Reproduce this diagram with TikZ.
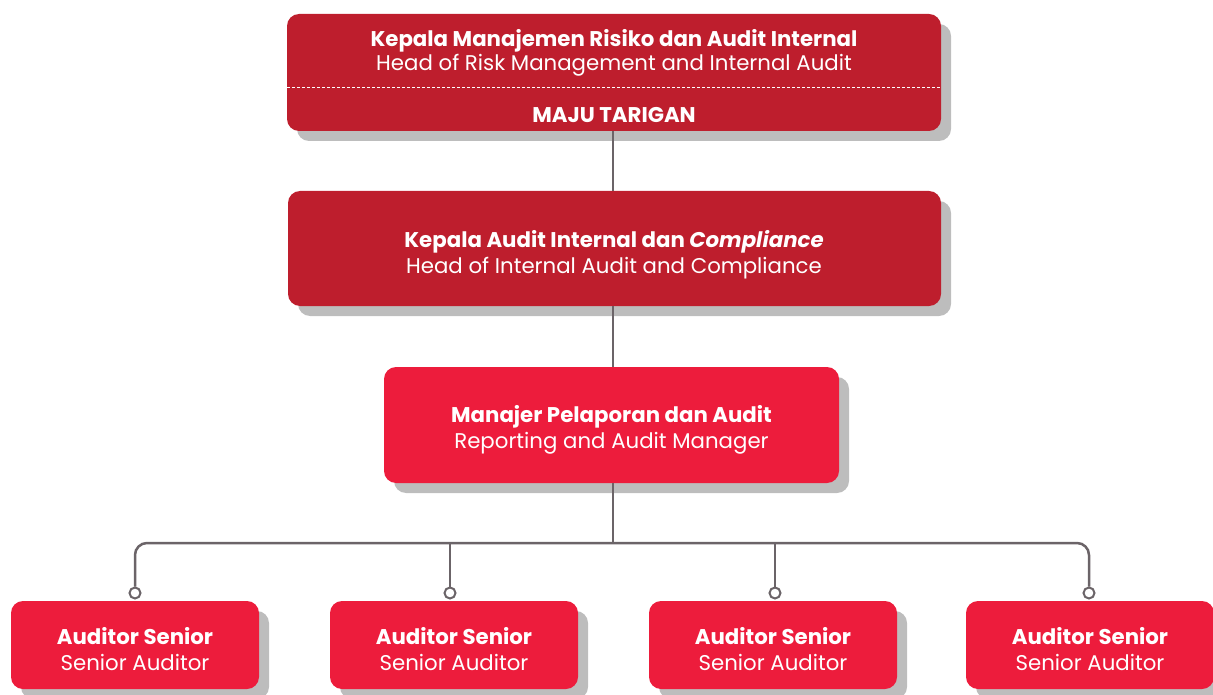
\documentclass[tikz,border=0pt]{standalone}
\usepackage{fontspec}
\setmainfont{Poppins}
\usetikzlibrary{shadows}
\definecolor{darkred}{HTML}{BE1E2D}
\definecolor{brightred}{HTML}{ED1C3C}
\definecolor{shade}{HTML}{BDBDBD}
\definecolor{linegray}{HTML}{6B6468}
\tikzset{
  box/.style={rounded corners=12pt, draw=none, inner sep=0pt,
    general shadow={fill=shade, shadow xshift=10pt, shadow yshift=-10pt}},
  txt/.style={text=white, align=center, inner sep=0pt, font=\fontsize{21.3}{26}\selectfont},
  txttop/.style={txt, font=\fontsize{21.3}{24}\selectfont},
  conn/.style={draw=linegray, line width=2.5pt},
  dot/.style={circle, draw=linegray, fill=white, line width=2pt, minimum size=11pt, inner sep=0pt}
}
\begin{document}
\begin{tikzpicture}[x=1pt,y=-1pt]
\useasboundingbox (0,0) rectangle (1213,695);
% top box
\node[box, fill=darkred, minimum width=654pt, minimum height=117pt] (head) at (614,72.5) {};
\node[txttop] (headt) at (614,53) {\textbf{Kepala Manajemen Risiko dan Audit Internal}\\Head of Risk Management and Internal Audit};
\node[txt] (name) at (614,115) {\textbf{MAJU TARIGAN}};
\draw[white, line width=1pt, dash pattern=on 3pt off 2pt] (head.west |- 0,88) -- (head.east |- 0,88);
% second box
\node[box, fill=darkred, minimum width=653pt, minimum height=115pt] (hia) at (614.5,248.5) {};
\node[txt] (hiat) at (614,255) {\textbf{Kepala Audit Internal dan \textit{Compliance}}\\Head of Internal Audit and Compliance};
% manager
\node[box, fill=brightred, minimum width=455pt, minimum height=116pt] (mgr) at (611.5,425) {};
\node[txt] (mgrt) at (611.5,430) {\textbf{Manajer Pelaporan dan Audit}\\Reporting and Audit Manager};
% auditors
\foreach \i/\x in {1/135,2/454,3/773,4/1090}{
  \node[box, fill=brightred, minimum width=248pt, minimum height=88pt] (aud\i) at (\x,645) {};
  \node[txt] (aud\i t) at (\x,649) {\textbf{Auditor Senior}\\Senior Auditor};
}
\coordinate (bus) at (613,543);
\node[dot] (c1) at (135,593) {};
\node[dot] (c2) at (450,593) {};
\node[dot] (c3) at (775,593) {};
\node[dot] (c4) at (1089,593) {};
% connectors
\draw[conn] (head.south -| bus) -- (hia.north -| bus);
\draw[conn] (hia.south -| bus) -- (mgr.north -| bus);
\draw[conn] (mgr.south -| bus) -- (bus);
\draw[conn, rounded corners=12pt] (c1.north) -- (c1.north |- bus) -- (c4.north |- bus) -- (c4.north);
\draw[conn] (c2.north) -- (c2.north |- bus);
\draw[conn] (c3.north) -- (c3.north |- bus);
\end{tikzpicture}
\end{document}
